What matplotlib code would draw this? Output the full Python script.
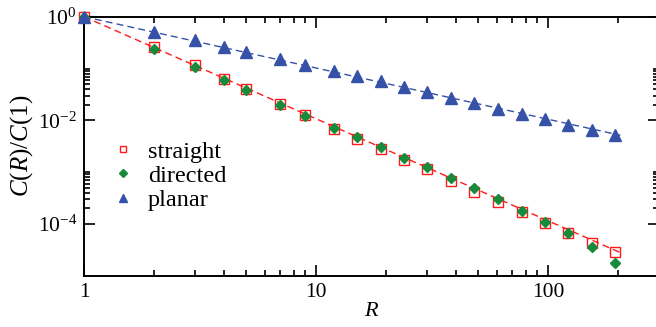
import numpy as np
import matplotlib
matplotlib.use('Agg')
import matplotlib.pyplot as plt
from matplotlib.ticker import FixedLocator, NullFormatter, LogFormatterSciNotation

plt.rcParams['font.family'] = ['Liberation Serif', 'DejaVu Serif']
plt.rcParams['mathtext.fontset'] = 'custom'
plt.rcParams['mathtext.rm'] = 'Liberation Serif'
plt.rcParams['mathtext.it'] = 'Liberation Serif:italic'

# data
R = [1, 2, 3, 4, 5, 7, 9, 12, 15, 19, 24, 30, 38, 48, 61, 77, 97, 122, 154, 194]
straight = [1.0, 0.258, 0.1143, 0.0625, 0.0402, 0.0209, 0.0129, 0.00684, 0.00445,
            0.00274, 0.00170, 0.00113, 6.84e-4, 4.20e-4, 2.70e-4, 1.66e-4, 1.06e-4,
            6.53e-5, 4.28e-5, 2.82e-5]
directed = [1.0, 0.236, 0.1064, 0.0598, 0.0385, 0.0200, 0.0123, 0.00715, 0.00471,
            0.00303, 0.00189, 0.00123, 7.80e-4, 4.86e-4, 2.99e-4, 1.81e-4, 1.10e-4,
            6.62e-5, 3.61e-5, 1.75e-5]
planar = [1.0, 0.508, 0.356, 0.265, 0.206, 0.151, 0.118, 0.0904, 0.0702, 0.0562,
          0.0439, 0.0356, 0.0272, 0.0216, 0.0166, 0.01346, 0.01064, 0.00826,
          0.00662, 0.00531]

# power-law fits (dashed lines)
fit_R = np.array([1.0, 205.0])
straight_exp = 1.97
planar_exp = 0.99

x_major = [1, 10, 100]
x_labels = ['1', '10', '100']
y_major = [1, 1e-2, 1e-4]

red = '#ff1a1a'
green = '#178a3c'
blue = '#3652a8'

fig = plt.figure(figsize=(6.56, 3.27), dpi=100)
ax = fig.add_axes([84 / 656, 1 - 275.7 / 327, 574.7 / 656, 259 / 327])

ax.plot(R, straight, 's', ms=6.5, mfc='none', mec=red, mew=1.0, label='straight',
        zorder=2, clip_on=False)
ax.plot(fit_R, fit_R ** -straight_exp, '--', color=red, lw=1.0, dashes=(5, 3), zorder=3)
ax.plot(R, directed, 'D', ms=5.6, color=green, mec=green, label='directed',
        zorder=4, clip_on=False)
ax.plot(fit_R, fit_R ** -planar_exp, '--', color=blue, lw=1.0, dashes=(5, 3), zorder=3)
ax.plot(R, planar, '^', ms=8, color=blue, mec=blue, label='planar',
        zorder=4, clip_on=False)

ax.set_xscale('log')
ax.set_yscale('log')
ax.set_xlim(1, 300)
ax.set_ylim(1e-5, 1)

ax.xaxis.set_major_locator(FixedLocator(x_major))
ax.set_xticklabels(x_labels)
x_minor = [m * d for d in (1, 10, 100) for m in range(2, 10) if m * d < 300]
ax.xaxis.set_minor_locator(FixedLocator(x_minor))
ax.xaxis.set_minor_formatter(NullFormatter())

ax.yaxis.set_major_locator(FixedLocator(y_major))
ax.yaxis.set_major_formatter(LogFormatterSciNotation())
y_minor = [m * d for d in (1e-2, 1e-4) for m in range(2, 11)]
ax.yaxis.set_minor_locator(FixedLocator(y_minor))
ax.yaxis.set_minor_formatter(NullFormatter())

ax.tick_params(which='both', direction='in', top=True, right=True, width=1.2,
               labelsize=15.5, colors='black')
ax.tick_params(which='major', length=8, pad=5)
ax.tick_params(which='minor', length=4)
for s in ax.spines.values():
    s.set_linewidth(1.4)

ax.set_xlabel('$\\it{R}$', fontsize=16, labelpad=0)
ax.set_ylabel('$\\it{C}$($\\it{R}$)/$\\it{C}$(1)', fontsize=18, labelpad=2)

ax.legend(loc='center left', bbox_to_anchor=(0.0467, 0.385), frameon=False,
          fontsize=17.5, handlelength=1.0, handletextpad=0.53, borderpad=0,
          borderaxespad=0, labelspacing=0.1, markerscale=0.75)

fig.savefig('out.png', dpi=100)
